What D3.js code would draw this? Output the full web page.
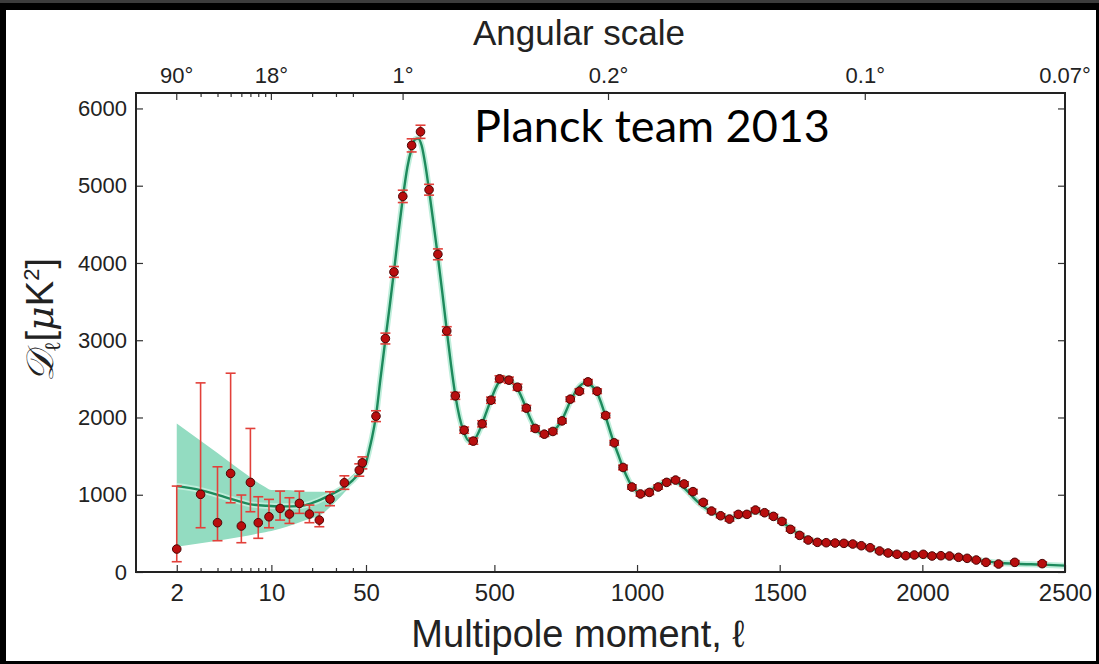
<!DOCTYPE html>
<html>
<head>
<meta charset="utf-8">
<script src="https://cdn.jsdelivr.net/npm/d3@7"></script>
<style>
  html, body { margin: 0; padding: 0; background: #000; }
  svg { display: block; }
</style>
</head>
<body>
<svg id="chart" width="1099" height="664"></svg>
<script>
// ---- Low-ℓ measurements (individual multipoles / narrow bins) ----
const lowL    = [2, 3, 4, 5, 6, 7, 8, 9.6, 11.6, 13.6, 16.1, 19.1, 22.6, 27.1, 34.6, 44.6, 47];
const lowD    = [297, 1005, 638, 1276, 595, 1160, 638, 715, 823, 750, 888, 750, 672, 944, 1155, 1319, 1413];
const lowErrLo = [133, 573, 405, 896, 379, 780, 436, 573, 672, 629, 759, 638, 586, 858, 1070, 1240, 1335];
const lowErrHi = [1112, 2448, 1362, 2573, 996, 1858, 974, 940, 1047, 961, 1047, 866, 772, 1039, 1245, 1400, 1490];

// ---- High-ℓ binned measurements ----
const highL = [85, 118, 148, 179, 210, 241, 271, 302, 333, 363, 394, 426, 457, 488, 518, 551, 581, 612,
  643, 675, 705, 737, 766, 798, 828, 860, 890, 920, 951, 982, 1012, 1043, 1074, 1104, 1135, 1165, 1196,
  1232, 1261, 1293, 1324, 1355, 1385, 1415, 1447, 1478, 1508, 1538, 1570, 1600, 1632, 1663, 1694, 1725,
  1756, 1786, 1817, 1850, 1880, 1911, 1942, 1972, 2003, 2034, 2065, 2095, 2127, 2157, 2189, 2223, 2267,
  2324, 2420];
const highD = [2017, 3022, 3884, 4862, 5522, 5698, 4948, 4112, 3120, 2280, 1836, 1694, 1918, 2224, 2500,
  2483, 2392, 2121, 1858, 1784, 1819, 1956, 2237, 2340, 2461, 2340, 2026, 1672, 1353, 1100, 1010, 1030,
  1100, 1160, 1190, 1140, 1040, 901, 789, 728, 685, 746, 746, 802, 767, 720, 655, 552, 474, 414, 384,
  379, 375, 371, 362, 340, 314, 272, 246, 229, 211, 220, 229, 207, 211, 207, 190, 177, 155, 125, 103,
  125, 108];
const highErr = [70, 70, 70, 80, 85, 85, 70, 70, 55, 45, 40, 40, 40, 40, 40, 40, 40, 35, 35, 30, 30, 30,
  30, 30, 30, 30, 30, 30, 30, 28, 28, 28, 28, 28, 28, 28, 28, 26, 26, 26, 26, 26, 26, 26, 26, 26, 24,
  24, 24, 22, 22, 22, 22, 22, 22, 22, 22, 20, 20, 20, 20, 20, 20, 20, 20, 20, 20, 20, 20, 20, 20, 22, 24];

// ---- Best-fit model spectrum ----
const modelL = [2, 3, 4.6, 6.9, 9.2, 12, 16, 18.2, 22, 28.6, 34, 40, 45, 51, 60, 70, 85, 100, 118, 133,
  148, 163, 179, 195, 210, 222, 233, 245, 258, 271, 286, 302, 318, 333, 348, 363, 378, 394, 410, 426,
  441, 457, 472, 488, 503, 518, 535, 551, 566, 581, 597, 612, 628, 643, 659, 675, 690, 705, 721, 737,
  752, 766, 782, 798, 813, 828, 844, 860, 875, 890, 905, 920, 936, 951, 966, 982, 997, 1012, 1028,
  1043, 1059, 1074, 1090, 1104, 1120, 1135, 1150, 1165, 1181, 1196, 1212, 1232, 1261, 1293, 1324,
  1355, 1385, 1415, 1447, 1478, 1508, 1538, 1570, 1600, 1632, 1663, 1694, 1725, 1756, 1786, 1817,
  1850, 1880, 1911, 1942, 1972, 2003, 2034, 2065, 2095, 2127, 2157, 2189, 2223, 2267, 2324, 2420, 2500];
const modelD = [1112, 1060, 966, 879, 857, 850, 853, 870, 920, 1017, 1090, 1190, 1290, 1426, 1560, 1720,
  2020, 2480, 3010, 3440, 3890, 4370, 4840, 5240, 5480, 5600, 5610, 5520, 5270, 4940, 4530, 4080, 3600,
  3130, 2680, 2290, 2000, 1800, 1700, 1700, 1780, 1920, 2070, 2230, 2370, 2470, 2515, 2490, 2440, 2370,
  2250, 2110, 1970, 1860, 1800, 1780, 1785, 1820, 1880, 1970, 2090, 2210, 2320, 2400, 2440, 2440, 2400,
  2320, 2180, 2010, 1830, 1660, 1500, 1350, 1220, 1110, 1050, 1020, 1020, 1045, 1085, 1120, 1155, 1175,
  1180, 1170, 1140, 1090, 1030, 970, 910, 850, 780, 725, 705, 720, 755, 780, 770, 725, 650, 565, 485,
  425, 392, 380, 375, 368, 356, 336, 310, 278, 252, 232, 220, 215, 212, 208, 205, 200, 190, 176, 160,
  140, 120, 108, 95, 82];

// ---- Cosmic-variance band at low ℓ ----
const bandL  = [2, 4, 6, 9, 10, 13, 18, 23, 29, 36, 44, 52];
const bandHi = [1922, 1540, 1310, 1100, 1060, 1060, 1040, 1040, 1040, 1190, 1330, 1470];
const bandLo = [327, 405, 457, 515, 530, 586, 672, 737, 888, 1060, 1250, 1430];

// ---- Axis ticks ----
const yTicks = [0, 1000, 2000, 3000, 4000, 5000, 6000];
const xLogTicks = [2, 10, 50];
const xLogMinor = [3, 4, 5, 6, 7, 8, 9, 20, 30, 40];
const xLinTicks = [500, 1000, 1500, 2000, 2500];
const angL = [2, 10, 180, 900, 1800, 2500];
const angLabels = ["90°", "18°", "1°", "0.2°", "0.1°", "0.07°"];

// ---- Layout ----
const W = 1099, H = 664;
const pL = 136, pR = 1065, pT = 93, pB = 572, pSplit = 366;

const svg = d3.select("#chart");

// framed white sheet
svg.append("rect").attr("width", W).attr("height", H).attr("fill", "#000");
svg.append("rect").attr("width", W).attr("height", 3).attr("fill", "#3c3c3c");
svg.append("rect").attr("x", 6).attr("y", 10).attr("width", 1090).attr("height", 651).attr("fill", "#fff");

// hybrid ℓ axis: logarithmic up to 50, linear above
const xLog = d3.scaleLog().domain([1, 50]).range([pL, pSplit]);
const xLin = d3.scaleLinear().domain([50, 2500]).range([pSplit, pR]);
const x = l => (l <= 50 ? xLog(l) : xLin(l));
const y = d3.scaleLinear().domain([0, 6200]).range([pB, pT]);

const plot = svg.append("g");

// band
const band = bandL.map((l, i) => ({ l, lo: bandLo[i], hi: bandHi[i] }));
plot.append("path")
  .datum(band)
  .attr("d", d3.area().x(d => x(d.l)).y0(d => y(d.lo)).y1(d => y(d.hi)).curve(d3.curveMonotoneX))
  .attr("fill", "#93dcc1");

// model curve (halo + line)
const model = modelL.map((l, i) => ({ l, d: modelD[i] }));
const lineGen = d3.line().x(d => x(d.l)).y(d => y(d.d)).curve(d3.curveMonotoneX);
plot.append("path").datum(model).attr("d", lineGen)
  .attr("fill", "none").attr("stroke", "#bfeedb").attr("stroke-width", 6).attr("stroke-linejoin", "round");
plot.append("path").datum(model).attr("d", lineGen)
  .attr("fill", "none").attr("stroke", "#1d8a5c").attr("stroke-width", 2.4).attr("stroke-linejoin", "round");

// measurements
const points = lowL.map((l, i) => ({ l, d: lowD[i], lo: lowErrLo[i], hi: lowErrHi[i] }))
  .concat(highL.map((l, i) => ({ l, d: highD[i], lo: highD[i] - highErr[i], hi: highD[i] + highErr[i] })));

const errColor = "#e2403a";
const eg = plot.append("g").attr("stroke", errColor).attr("stroke-width", 1.6);
points.forEach(p => {
  const px = x(p.l);
  eg.append("line").attr("x1", px).attr("x2", px).attr("y1", y(p.lo)).attr("y2", y(p.hi));
  eg.append("line").attr("x1", px - 5).attr("x2", px + 5).attr("y1", y(p.lo)).attr("y2", y(p.lo));
  eg.append("line").attr("x1", px - 5).attr("x2", px + 5).attr("y1", y(p.hi)).attr("y2", y(p.hi));
});
plot.append("g").selectAll("circle").data(points).join("circle")
  .attr("cx", d => x(d.l)).attr("cy", d => y(d.d)).attr("r", 4.3)
  .attr("fill", "#b80e0e").attr("stroke", "#4a0505").attr("stroke-width", 1);

// axes
const tickFont = "Liberation Sans, Arial, sans-serif";
function style(g, size) {
  g.select(".domain").remove();
  g.selectAll(".tick line").attr("stroke", "#333").attr("stroke-width", 1.2);
  g.selectAll(".tick text").attr("font-size", size).attr("font-family", tickFont).attr("fill", "#222");
}
svg.append("g").attr("transform", `translate(${pL},0)`)
  .call(d3.axisLeft(y).tickValues(yTicks).tickSize(-7).tickPadding(9).tickFormat(d3.format("d")))
  .call(g => style(g, 22));
svg.append("g").attr("transform", `translate(${pR},0)`)
  .call(d3.axisRight(y).tickValues(yTicks).tickSize(-7).tickFormat(""))
  .call(g => style(g, 22));

svg.append("g").attr("transform", `translate(0,${pB})`)
  .call(d3.axisBottom(xLog).tickValues(xLogTicks).tickSize(-7).tickPadding(12).tickFormat(d3.format("d")))
  .call(g => style(g, 24));
svg.append("g").attr("transform", `translate(0,${pB})`)
  .call(d3.axisBottom(xLog).tickValues(xLogMinor).tickSize(-4).tickFormat(""))
  .call(g => style(g, 24));
svg.append("g").attr("transform", `translate(0,${pB})`)
  .call(d3.axisBottom(xLin).tickValues(xLinTicks).tickSize(-7).tickPadding(12).tickFormat(d3.format("d")))
  .call(g => style(g, 24));

// top angular-scale axis
svg.append("g").attr("transform", `translate(0,${pT})`)
  .call(d3.axisBottom(xLog).tickValues(xLogMinor).tickSize(4).tickFormat(""))
  .call(g => style(g, 22));
const topAx = svg.append("g").attr("transform", `translate(0,${pT})`);
topAx.selectAll("line").data(angL).join("line")
  .attr("x1", d => x(d)).attr("x2", d => x(d)).attr("y1", 0).attr("y2", 7)
  .attr("stroke", "#333").attr("stroke-width", 1.2);
topAx.selectAll("text").data(angL).join("text")
  .attr("x", d => x(d)).attr("y", -10).attr("text-anchor", "middle")
  .attr("font-family", tickFont).attr("font-size", 22).attr("fill", "#222")
  .text((d, i) => angLabels[i]);

// spines
svg.append("rect").attr("x", pL).attr("y", pT).attr("width", pR - pL).attr("height", pB - pT)
  .attr("fill", "none").attr("stroke", "#222").attr("stroke-width", 2);

// titles
svg.append("text").attr("x", 579).attr("y", 45).attr("text-anchor", "middle")
  .attr("font-family", tickFont).attr("font-size", 35).attr("fill", "#222").text("Angular scale");
svg.append("text").attr("x", 578).attr("y", 647).attr("text-anchor", "middle")
  .attr("font-family", tickFont).attr("font-size", 38).attr("fill", "#222").text("Multipole moment, ℓ");

const yl = svg.append("text").attr("transform", "translate(53,320) rotate(-90)")
  .attr("text-anchor", "middle").attr("font-family", tickFont).attr("font-size", 38).attr("fill", "#222");
yl.append("tspan").attr("font-family", "DejaVu Serif, DejaVu Sans, serif").attr("font-style", "italic").text("𝒟");
yl.append("tspan").attr("font-size", 22).attr("dy", 7).attr("font-family", "DejaVu Serif, serif").text("ℓ");
yl.append("tspan").attr("dy", -7).text("[");
yl.append("tspan").attr("font-family", "DejaVu Serif, serif").attr("font-style", "italic").text("μ");
yl.append("tspan").text("K");
yl.append("tspan").attr("font-size", 22).attr("dy", -14).text("2");
yl.append("tspan").attr("dy", 14).text("]");

svg.append("text").attr("x", 474).attr("y", 142)
  .attr("font-family", "Lato, Open Sans, sans-serif").attr("font-size", 45).attr("fill", "#000")
  .text("Planck team 2013");
</script>
</body>
</html>
